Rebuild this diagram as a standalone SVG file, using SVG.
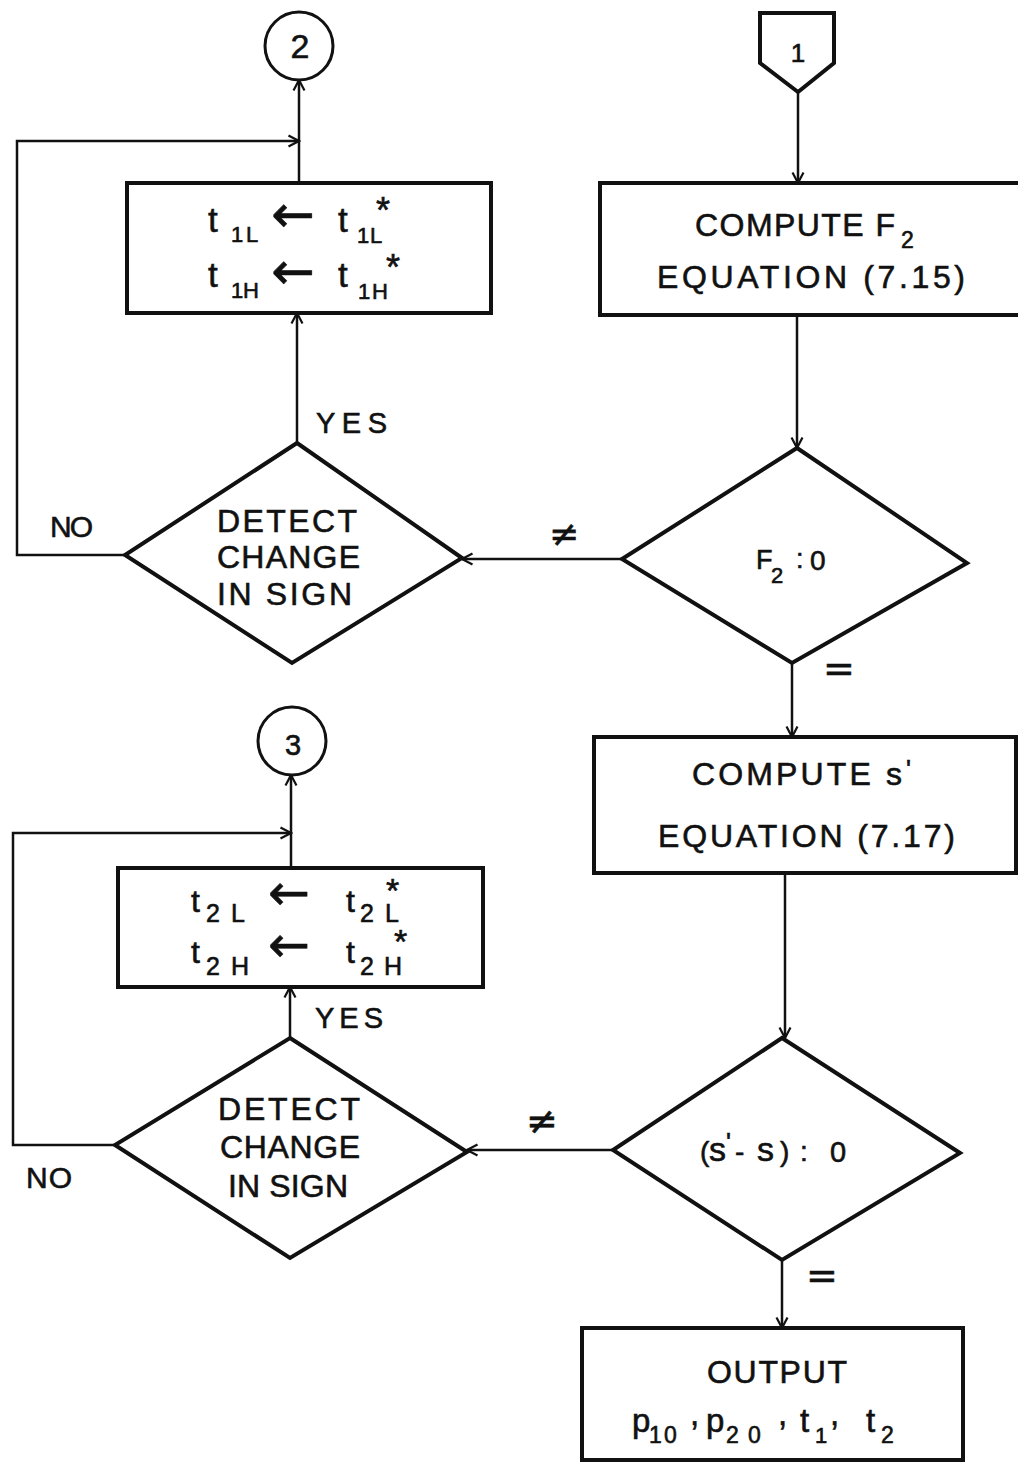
<svg xmlns="http://www.w3.org/2000/svg" width="1018" height="1463" viewBox="0 0 1018 1463">
<style>
text{font-family:"Liberation Sans",Arial,sans-serif;fill:#111;stroke:#111;stroke-width:0.6;}
.box{fill:none;stroke:#111;stroke-width:4;}
.dia{fill:none;stroke:#111;stroke-width:4;stroke-linejoin:miter;}
.circ{fill:none;stroke:#111;stroke-width:3;}
.edge{fill:none;stroke:#111;stroke-width:2.5;marker-end:url(#ah);}
.lbl{font-size:32px;}
.sym{font-family:"DejaVu Sans",sans-serif;}
</style>
<defs>
<marker id="ah" viewBox="0 0 14 14" refX="12.5" refY="7" markerWidth="14" markerHeight="14" markerUnits="userSpaceOnUse" orient="auto">
<path d="M2,1.5 L12.5,7 L2,12.5" fill="none" stroke="#111" stroke-width="2.2"/>
</marker>
</defs>
<rect width="1018" height="1463" fill="#fff"/>

<g id="connectors">
<path class="edge" d="M798,92 V183"/>
<path class="edge" d="M797,315 V448"/>
<path class="edge" d="M622,559 H462"/>
<path class="edge" d="M297,443 V313"/>
<path class="edge" d="M299,183 V80"/>
<path class="edge" d="M125,555 H17 V141 H299"/>
<path class="edge" d="M792,663 V737"/>
<path class="edge" d="M785,873 V1038"/>
<path class="edge" d="M613,1150 H467"/>
<path class="edge" d="M290,1038 V987"/>
<path class="edge" d="M291,868 V775"/>
<path class="edge" d="M115,1145 H13 V833 H291"/>
<path class="edge" d="M782,1260 V1328"/>
<text x="50" y="537" font-size="30" textLength="43" lengthAdjust="spacing">NO</text>
<text x="316" y="433" font-size="29" textLength="71" lengthAdjust="spacing">YES</text>
<text class="sym" x="564" y="546" font-size="36" text-anchor="middle">≠</text>
<text class="sym" x="839" y="681" font-size="38" text-anchor="middle">=</text>
<text x="26" y="1188" font-size="30" textLength="46" lengthAdjust="spacing">NO</text>
<text x="315" y="1028" font-size="29" textLength="68" lengthAdjust="spacing">YES</text>
<text class="sym" x="542" y="1134" font-size="38" text-anchor="middle">≠</text>
<text class="sym" x="822" y="1288" font-size="38" text-anchor="middle">=</text>
</g>

<g id="conn2">
<circle class="circ" cx="299" cy="46" r="34"/>
<text x="300" y="58" font-size="34" text-anchor="middle">2</text>
</g>

<g id="conn1">
<path class="box" d="M760,13 H834 V63 L798,92 L760,63 Z" stroke-width="3.5"/>
<text x="798" y="62" font-size="26" text-anchor="middle">1</text>
</g>

<g id="box-t1">
<rect class="box" x="127" y="183" width="364" height="130"/>
<text font-size="35"><tspan x="208" y="232">t</tspan><tspan x="231 246" y="242" font-size="22">1L</tspan><tspan class="sym" x="271" y="232" font-size="52">←</tspan><tspan x="338" y="232">t</tspan><tspan x="357 370" y="243" font-size="22">1L</tspan><tspan x="376" y="223" font-size="36">*</tspan></text>
<text font-size="35"><tspan x="208" y="287">t</tspan><tspan x="231 243" y="298" font-size="22">1H</tspan><tspan class="sym" x="271" y="289" font-size="52">←</tspan><tspan x="338" y="287">t</tspan><tspan x="358 372" y="299" font-size="22">1H</tspan><tspan x="386" y="280" font-size="36">*</tspan></text>
</g>

<g id="box-computeF2">
<rect class="box" x="600" y="183" width="430" height="132"/>
<text class="lbl" font-size="31"><tspan x="695" y="236" textLength="200" lengthAdjust="spacing">COMPUTE F</tspan><tspan x="901" y="248" font-size="23">2</tspan></text>
<text class="lbl" x="657" y="288" font-size="31" textLength="308" lengthAdjust="spacing">EQUATION (7.15)</text>
</g>

<g id="dec-detect1">
<path class="dia" d="M297,443 L462,558 L292,663 L125,555 Z"/>
<text class="lbl" x="217" y="532" textLength="140" lengthAdjust="spacing">DETECT</text>
<text class="lbl" x="217" y="568" textLength="143" lengthAdjust="spacing">CHANGE</text>
<text class="lbl" x="217" y="605" textLength="135" lengthAdjust="spacing">IN SIGN</text>
</g>

<g id="dec-F2">
<path class="dia" d="M797,448 L967,563 L792,663 L622,559 Z"/>
<text font-size="27"><tspan x="756" y="569">F</tspan><tspan x="771" y="583" font-size="22">2</tspan><tspan x="796" y="568">:</tspan><tspan x="810" y="570" font-size="28">0</tspan></text>
</g>

<g id="conn3">
<circle class="circ" cx="292" cy="741" r="34"/>
<text x="293" y="755" font-size="29" text-anchor="middle">3</text>
</g>

<g id="box-computeS">
<rect class="box" x="594" y="737" width="422" height="136"/>
<text class="lbl" font-size="31"><tspan x="692" y="785" textLength="210" lengthAdjust="spacing">COMPUTE s</tspan><tspan x="906" y="778" font-size="26">'</tspan></text>
<text class="lbl" x="658" y="847" font-size="31" textLength="297" lengthAdjust="spacing">EQUATION (7.17)</text>
</g>

<g id="box-t2">
<rect class="box" x="118" y="868" width="365" height="119"/>
<text font-size="32"><tspan x="191" y="912">t</tspan><tspan x="206 231" y="922" font-size="25">2L</tspan><tspan class="sym" x="268" y="910" font-size="50">←</tspan><tspan x="346" y="912">t</tspan><tspan x="360 385" y="922" font-size="25">2L</tspan><tspan x="386" y="902" font-size="34">*</tspan></text>
<text font-size="32"><tspan x="191" y="963">t</tspan><tspan x="206 231" y="975" font-size="25">2H</tspan><tspan class="sym" x="268" y="962" font-size="50">←</tspan><tspan x="346" y="963">t</tspan><tspan x="360 384" y="975" font-size="25">2H</tspan><tspan x="394" y="953" font-size="34">*</tspan></text>
</g>

<g id="dec-detect2">
<path class="dia" d="M290,1038 L467,1152 L290,1258 L115,1145 Z"/>
<text class="lbl" x="218" y="1120" textLength="142" lengthAdjust="spacing">DETECT</text>
<text class="lbl" x="220" y="1158" textLength="140" lengthAdjust="spacing">CHANGE</text>
<text class="lbl" x="228" y="1197" textLength="120" lengthAdjust="spacing">IN SIGN</text>
</g>

<g id="dec-s">
<path class="dia" d="M782,1038 L960,1153 L782,1260 L613,1150 Z"/>
<text font-size="28"><tspan x="700" y="1161">(</tspan><tspan x="709" y="1161" font-size="34">s</tspan><tspan x="726" y="1151" font-size="26">'</tspan><tspan x="735" y="1161">-</tspan><tspan x="757" y="1161" font-size="34">s</tspan><tspan x="780 800" y="1161">):</tspan><tspan x="830" y="1162" font-size="29">0</tspan></text>
</g>

<g id="box-output">
<rect class="box" x="582" y="1328" width="381" height="132"/>
<text class="lbl" x="707" y="1383" font-size="30" textLength="140" lengthAdjust="spacing">OUTPUT</text>
<text font-size="33"><tspan x="632" y="1432">p</tspan><tspan x="649 664" y="1443" font-size="23">10</tspan><tspan x="690" y="1425">,</tspan><tspan x="706" y="1432">p</tspan><tspan x="726 748" y="1443" font-size="23">20</tspan><tspan x="778" y="1425">,</tspan><tspan x="800" y="1432">t</tspan><tspan x="815" y="1443" font-size="22">1</tspan><tspan x="830" y="1425">,</tspan><tspan x="866" y="1432">t</tspan><tspan x="881" y="1443" font-size="23">2</tspan></text>
</g>
</svg>
